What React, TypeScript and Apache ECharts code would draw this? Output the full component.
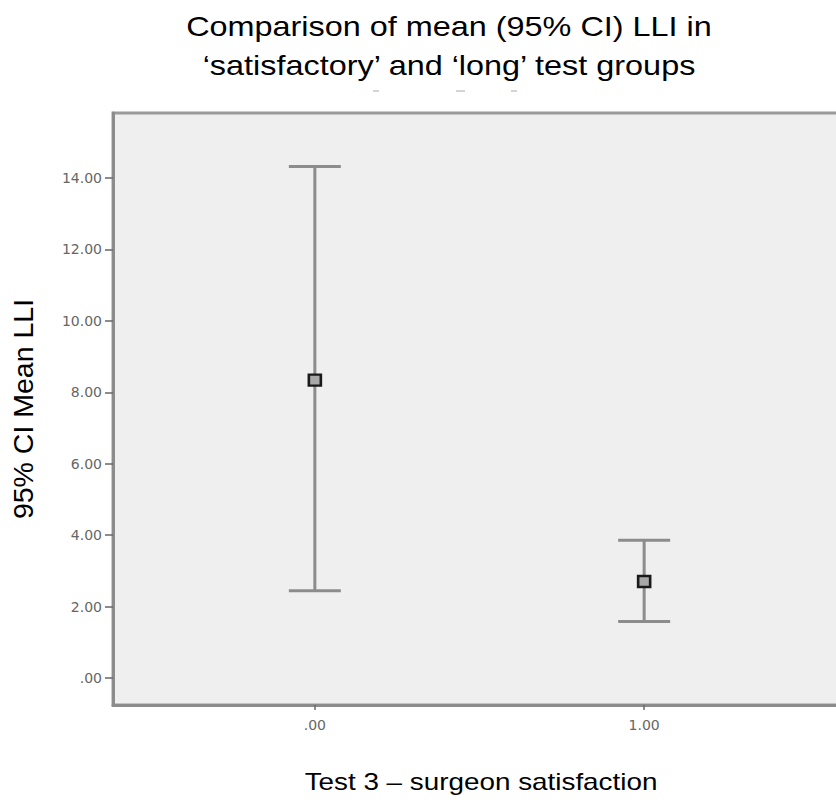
import React, { useEffect, useRef } from "react";
import * as echarts from "echarts";

const titleLines = ["Comparison of mean (95% CI) LLI in", "\u2018satisfactory\u2019 and \u2018long\u2019 test groups"];
const xAxisTitle = "Test 3 \u2013 surgeon satisfaction";
const yAxisTitle = "95% CI Mean LLI";

const groups = [0, 1];
const groupLabels = [".00", "1.00"];
const means = [8.34, 2.7];
const lowerCI = [2.44, 1.58];
const upperCI = [14.32, 3.86];
const yTicks = [0, 2, 4, 6, 8, 10, 12, 14];

const fmt = (v: number) => (Math.abs(v) < 1e-9 ? ".00" : v.toFixed(2));
const SANS = '"Liberation Sans", Arial, sans-serif';

export default function App() {
  const ref = useRef<HTMLDivElement>(null);
  useEffect(() => {
    if (!ref.current) return;
    const chart = echarts.init(ref.current, undefined, { renderer: "svg" });
    const barData = groups.map((g, i) => [g, lowerCI[i], upperCI[i]]);
    const meanData = groups.map((g, i) => [g, means[i]]);
    chart.setOption({
      animation: false,
      backgroundColor: "#ffffff",
      graphic: [
        {
          type: "text",
          x: 449,
          y: 13,
          scaleX: 1.2,
          style: {
            text: titleLines[0],
            font: "27px " + SANS,
            fill: "#000",
            align: "center",
            verticalAlign: "top",
          },
        },
        {
          type: "text",
          x: 449,
          y: 52,
          scaleX: 1.2,
          style: {
            text: titleLines[1],
            font: "27px " + SANS,
            fill: "#000",
            align: "center",
            verticalAlign: "top",
          },
        },
        {
          type: "text",
          x: 481,
          y: 770,
          scaleX: 1.16,
          style: {
            text: xAxisTitle,
            font: "24px " + SANS,
            fill: "#000",
            align: "center",
            verticalAlign: "top",
          },
        },
        { type: "rect", shape: { x: 373, y: 90, width: 6, height: 2 }, style: { fill: "#d4d4d4" } },
        { type: "rect", shape: { x: 456, y: 90, width: 9, height: 2 }, style: { fill: "#d4d4d4" } },
        { type: "rect", shape: { x: 511, y: 90, width: 6, height: 2 }, style: { fill: "#d4d4d4" } },
      ],
      grid: {
        left: 109,
        top: 113,
        right: 14,
        bottom: 95,
        show: true,
        backgroundColor: "#efefef",
        borderColor: "#9a9a9a",
        borderWidth: 3,
      },
      xAxis: {
        type: "value",
        min: -0.613,
        max: 1.613,
        splitLine: { show: false },
        axisLine: { show: true, onZero: false, lineStyle: { color: "#8c8c8c", width: 3 } },
        axisTick: { show: true, length: 5, customValues: groups, lineStyle: { color: "#6a6a6a", width: 1.5 } },
        axisLabel: {
          customValues: groups,
          formatter: (v: number) => groupLabels[groups.indexOf(Math.round(v))] ?? "",
          margin: 13,
          fontFamily: '"DejaVu Sans", sans-serif',
          fontSize: 14,
          color: "#666666",
        },
      },
      yAxis: {
        type: "value",
        min: -0.756,
        max: 15.82,
        name: yAxisTitle,
        nameLocation: "middle",
        nameGap: 76,
        nameTextStyle: { fontFamily: SANS, fontSize: 28.5, color: "#000" },
        splitLine: { show: false },
        axisLine: { show: true, onZero: false, lineStyle: { color: "#8c8c8c", width: 3 } },
        axisTick: { show: true, length: 8, customValues: yTicks, lineStyle: { color: "#666666", width: 1.5 } },
        axisLabel: {
          customValues: yTicks,
          formatter: (v: number) => fmt(v),
          margin: 11,
          fontFamily: '"DejaVu Sans", sans-serif',
          fontSize: 14,
          color: "#666666",
        },
      },
      series: [
        {
          type: "custom",
          data: barData,
          encode: { x: 0, y: [1, 2] },
          clip: false,
          z: 2,
          renderItem: (params: any, api: any) => {
            const x = api.value(0);
            const lo = api.value(1);
            const hi = api.value(2);
            const top = api.coord([x, hi]);
            const bot = api.coord([x, lo]);
            const hw = 26;
            const style = { stroke: "#8c8c8c", lineWidth: 3 };
            return {
              type: "group",
              children: [
                { type: "line", shape: { x1: top[0], y1: top[1], x2: bot[0], y2: bot[1] }, style },
                { type: "line", shape: { x1: top[0] - hw, y1: top[1], x2: top[0] + hw, y2: top[1] }, style },
                { type: "line", shape: { x1: bot[0] - hw, y1: bot[1], x2: bot[0] + hw, y2: bot[1] }, style },
              ],
            };
          },
        },
        {
          type: "scatter",
          data: meanData,
          symbol: "rect",
          symbolSize: [12, 11],
          z: 3,
          itemStyle: { color: "#a8a8a8", borderColor: "#1a1a1a", borderWidth: 2.5, opacity: 1 },
        },
      ],
    });
    return () => chart.dispose();
  }, []);
  return (
    <div style={{ position: "fixed", left: 0, top: 0, width: 836, height: 800, overflow: "hidden" }}>
      <div ref={ref} style={{ width: 860, height: 800 }} />
    </div>
  );
}
